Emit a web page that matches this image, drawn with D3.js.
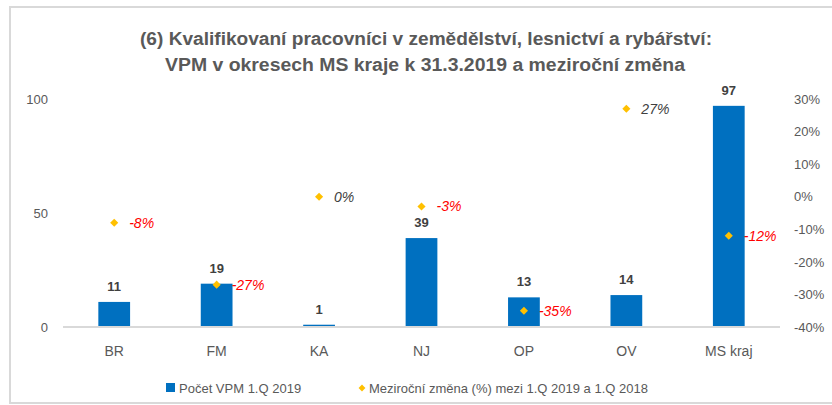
<!DOCTYPE html>
<html>
<head>
<meta charset="utf-8">
<script src="https://cdn.jsdelivr.net/npm/d3@7"></script>
<style>
  body { margin: 0; background: #fff; }
  svg { display: block; font-family: "Liberation Sans", Arial, sans-serif; }
</style>
</head>
<body>
<div id="chart"></div>
<script>
// Data
var categories = ["BR", "FM", "KA", "NJ", "OP", "OV", "MS kraj"];
var counts = [11, 19, 1, 39, 13, 14, 97];              // Počet VPM 1.Q 2019
var changes = [-8, -27, 0, -3, -35, 27, -12];          // meziroční změna v %
var leftTicks = [0, 50, 100];
var rightTicks = [-40, -30, -20, -10, 0, 10, 20, 30];
var titleLines = ["(6) Kvalifikovaní pracovníci  v zemědělství, lesnictví a rybářství:",
                  "VPM v okresech MS kraje k 31.3.2019 a meziroční změna"];
var legendLabels = ["Počet VPM 1.Q 2019", "Meziroční změna (%) mezi 1.Q 2019 a 1.Q 2018"];

var width = 832, height = 405;
var plot = {left: 63, right: 780, top: 99, bottom: 327};

var svg = d3.select("#chart")
            .append("svg")
            .attr("width", width)
            .attr("height", height);

// Frame
svg.append("rect")
   .attr("x", 10).attr("y", 7)
   .attr("width", 840).attr("height", 396)
   .attr("fill", "#fff")
   .attr("stroke", "#d9d9d9")
   .attr("stroke-width", 2);

// Title
svg.selectAll(".title")
   .data(titleLines)
   .enter().append("text")
   .attr("class", "title")
   .attr("x", function(d, i) { return i == 0 ? 140 : 165; })
   .attr("y", function(d, i) { return 45 + i * 26; })
   .attr("textLength", function(d, i) { return i == 0 ? 572 : 520; })
   .attr("lengthAdjust", "spacingAndGlyphs")
   .attr("font-size", 18)
   .attr("font-weight", "bold")
   .attr("fill", "#595959")
   .text(function(d) { return d; });

// Scales
var x = d3.scaleBand()
          .domain(categories)
          .range([plot.left, plot.right])
          .paddingInner(0.69)
          .paddingOuter(0.345);

var yLeft = d3.scaleLinear().domain([0, 100]).range([plot.bottom, plot.top]);
var yRight = d3.scaleLinear().domain([-40, 30]).range([plot.bottom, plot.top]);

// Bars
svg.append("g")
   .selectAll("rect")
   .data(counts)
   .enter().append("rect")
   .attr("x", function(d, i) { return x(categories[i]); })
   .attr("y", function(d) { return yLeft(d); })
   .attr("width", x.bandwidth())
   .attr("height", function(d) { return yLeft(0) - yLeft(d); })
   .attr("fill", "#0070c0");

// Baseline
svg.append("line")
   .attr("x1", plot.left).attr("x2", plot.right)
   .attr("y1", yLeft(0)).attr("y2", yLeft(0))
   .attr("stroke", "#d9d9d9")
   .attr("stroke-width", 2);

// Bar labels
svg.append("g")
   .selectAll("text")
   .data(counts)
   .enter().append("text")
   .attr("x", function(d, i) { return x(categories[i]) + x.bandwidth() / 2; })
   .attr("y", function(d) { return yLeft(d) - 11; })
   .attr("text-anchor", "middle")
   .attr("font-size", 13)
   .attr("font-weight", "bold")
   .attr("fill", "#404040")
   .text(function(d) { return d; });

// Left axis
var leftAxis = d3.axisLeft(yLeft).tickValues(leftTicks).tickSize(0).tickPadding(0);
svg.append("g")
   .attr("transform", "translate(48,0)")
   .call(leftAxis)
   .call(function(g) { g.select(".domain").remove(); })
   .selectAll("text")
   .attr("font-size", 13)
   .attr("font-family", "Liberation Sans, Arial, sans-serif")
   .attr("fill", "#595959");

// Right axis
var rightAxis = d3.axisRight(yRight).tickValues(rightTicks).tickSize(0).tickPadding(0)
                  .tickFormat(function(d) { return d + "%"; });
svg.append("g")
   .attr("transform", "translate(794,0)")
   .call(rightAxis)
   .call(function(g) { g.select(".domain").remove(); })
   .selectAll("text")
   .attr("font-size", 13)
   .attr("font-family", "Liberation Sans, Arial, sans-serif")
   .attr("fill", "#595959");

// Category axis
var bottomAxis = d3.axisBottom(x).tickSize(0).tickPadding(0);
svg.append("g")
   .attr("transform", "translate(0,346)")
   .call(bottomAxis)
   .call(function(g) { g.select(".domain").remove(); })
   .selectAll("text")
   .attr("font-size", 14)
   .attr("font-family", "Liberation Sans, Arial, sans-serif")
   .attr("fill", "#595959");

// Change markers
var diamond = d3.symbol().type(d3.symbolDiamond2).size(42);
svg.append("g")
   .selectAll("path")
   .data(changes)
   .enter().append("path")
   .attr("d", diamond)
   .attr("transform", function(d, i) {
       return "translate(" + (x(categories[i]) + x.bandwidth() / 2) + "," + yRight(d) + ")";
   })
   .attr("fill", "#ffc000");

// Change labels
svg.append("g")
   .selectAll("text")
   .data(changes)
   .enter().append("text")
   .attr("x", function(d, i) { return x(categories[i]) + x.bandwidth() / 2 + 15; })
   .attr("y", function(d) { return yRight(d) + 5; })
   .attr("font-size", 14)
   .attr("font-style", "italic")
   .attr("fill", function(d) { return d < 0 ? "#ff0000" : "#404040"; })
   .text(function(d) { return d + "%"; });

// Legend
var legend = svg.append("g");
legend.append("rect")
      .attr("x", 166).attr("y", 383)
      .attr("width", 9).attr("height", 9)
      .attr("fill", "#0070c0");
legend.append("text")
      .attr("x", 179).attr("y", 393)
      .attr("font-size", 13)
      .attr("fill", "#595959")
      .text(legendLabels[0]);
legend.append("path")
      .attr("d", d3.symbol().type(d3.symbolDiamond2).size(30))
      .attr("transform", "translate(362,388)")
      .attr("fill", "#ffc000");
legend.append("text")
      .attr("x", 369).attr("y", 393)
      .attr("font-size", 13)
      .attr("fill", "#595959")
      .text(legendLabels[1]);
</script>
</body>
</html>
